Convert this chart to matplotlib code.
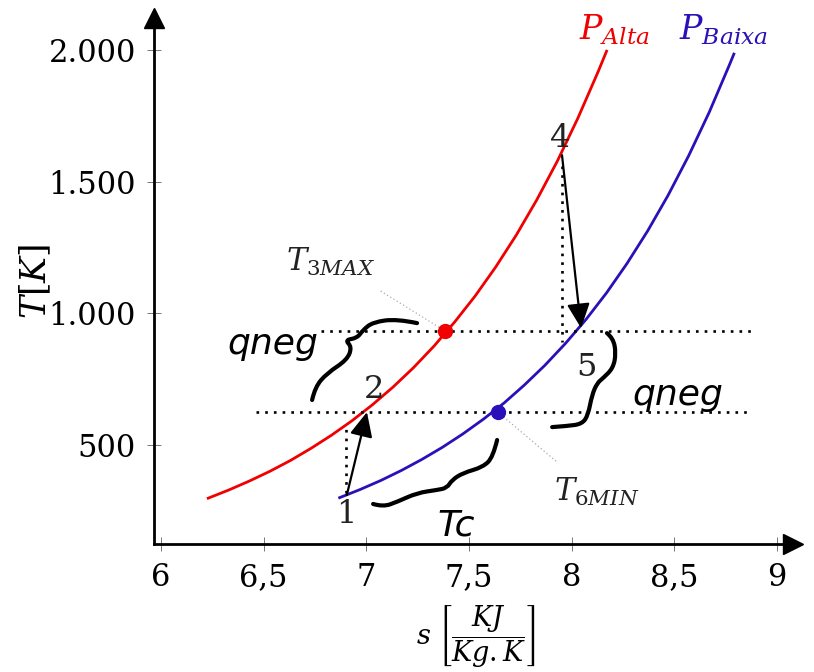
import matplotlib.pyplot as plt
import numpy as np
from matplotlib.path import Path
from matplotlib.patches import PathPatch

plt.rcParams['font.family'] = 'DejaVu Serif'
plt.rcParams['mathtext.fontset'] = 'dejavuserif'

RED = '#f00000'
BLUE = '#2a10b8'

# isobaric curves (s in kJ/kg.K, T in K)
s_alta = [6.23, 6.33, 6.43, 6.53, 6.63, 6.73, 6.83, 6.93, 7.03, 7.13, 7.23,
          7.33, 7.43, 7.53, 7.63, 7.73, 7.83, 7.93, 8.03, 8.13, 8.17]
T_alta = [298, 329, 363, 400, 441, 487, 537, 592, 653, 720, 794,
          876, 967, 1066, 1176, 1297, 1431, 1578, 1741, 1920, 1996]
s_baixa = [6.87, 6.97, 7.07, 7.17, 7.27, 7.37, 7.47, 7.57, 7.67, 7.77, 7.87,
           7.97, 8.07, 8.17, 8.27, 8.37, 8.47, 8.57, 8.67, 8.77, 8.79]
T_baixa = [300, 331, 365, 403, 445, 491, 542, 598, 659, 728, 803,
           886, 977, 1078, 1190, 1313, 1449, 1599, 1764, 1947, 1985]

# cycle states
s_pts = {'1': 6.905, '2': 7.003, '4': 7.953, '5': 8.046}
T_pts = {'1': 310, '2': 625, '4': 1601, '5': 944}
s_3max, T_3max = 7.383, 933
s_6min, T_6min = 7.64, 625

# handwritten strokes (data coords)
brace_left = [(7.247, 963), (7.150, 979), (7.033, 967), (6.984, 937), (6.955, 906),
              (6.896, 899), (6.930, 872), (6.906, 823), (6.809, 773), (6.750, 720),
              (6.736, 671)]
brace_right = [(8.172, 925), (8.202, 906), (8.216, 849), (8.202, 792), (8.153, 754),
               (8.124, 735), (8.099, 690), (8.080, 614), (8.051, 580), (7.978, 572),
               (7.905, 568)]
brace_bottom = [(7.637, 519), (7.617, 454), (7.568, 416), (7.471, 394), (7.417, 367),
                (7.393, 337), (7.344, 329), (7.247, 318), (7.150, 284), (7.081, 265),
                (7.033, 276)]


def smooth_stroke(ax, pts, lw=3.0):
    verts = [pts[0]]
    codes = [Path.MOVETO]
    n = len(pts)
    for i in range(1, n - 1):
        end = pts[n - 1] if i == n - 2 else ((pts[i][0] + pts[i + 1][0]) / 2,
                                             (pts[i][1] + pts[i + 1][1]) / 2)
        verts += [pts[i], end]
        codes += [Path.CURVE3, Path.CURVE3]
    ax.add_patch(PathPatch(Path(verts, codes), fill=False, lw=lw, color='black',
                           capstyle='round', joinstyle='round', zorder=6))


fig = plt.figure(figsize=(8.14, 6.72), dpi=100)
ax = fig.add_axes([0.1892, 0.1905, 0.785, 0.7827])
ax.set_xlim(5.966, 9.078)
ax.set_ylim(124, 2122)

for side in ['top', 'right']:
    ax.spines[side].set_visible(False)
for side in ['left', 'bottom']:
    ax.spines[side].set_linewidth(2.0)
ax.plot(1, 0, '>k', ms=15, transform=ax.transAxes, clip_on=False)
ax.plot(0, 1, '^k', ms=15, transform=ax.transAxes, clip_on=False)

ax.set_xticks([6, 6.5, 7, 7.5, 8, 8.5, 9])
ax.set_xticklabels(['6', '6,5', '7', '7,5', '8', '8,5', '9'])
ax.set_yticks([500, 1000, 1500, 2000])
ax.set_yticklabels(['500', '1.000', '1.500', '2.000'])
ax.tick_params(direction='inout', length=10, width=0.7, color='#777777',
               labelsize=22, pad=8)

ax.set_xlabel(r'$s\ \left[\dfrac{KJ}{Kg.K}\right]$', fontsize=19.5, va='center')
ax.xaxis.set_label_coords(0.504, -0.176)
ax.set_ylabel(r'$T[K]$', fontsize=25, va='center')
ax.yaxis.set_label_coords(-0.186, 0.50)

# curves
ax.plot(s_alta, T_alta, color=RED, lw=2.0)
ax.plot(s_baixa, T_baixa, color=BLUE, lw=2.0)
ax.text(s_alta[-1] + 0.04, 2076, r'$P_{Alta}$', color=RED, fontsize=24,
        ha='center', va='center')
ax.text(s_baixa[-1] - 0.05, 2076, r'$P_{Baixa}$', color=BLUE, fontsize=24,
        ha='center', va='center')

# dotted guide lines
dot = dict(color='black', lw=1.9, ls=(0, (1, 2.3)))
ax.plot([6.78, 8.879], [T_3max, T_3max], **dot)
ax.plot([6.463, 8.879], [T_6min, T_6min], **dot)
ax.plot([6.90, 6.90], [318, 565], **dot)
ax.plot([7.953, 7.953], [1560, 890], **dot)

# leaders to the labels
ax.plot([7.07, s_3max], [1085, T_3max], color='#aaaaaa', lw=0.9, ls=(0, (1, 2)))
ax.plot([s_6min, 7.934], [T_6min, 432], color='#aaaaaa', lw=0.9, ls=(0, (1, 2)))
ax.text(6.828, 1195, r'$T_{3MAX}$', fontsize=22, color='#222222', ha='center', va='center')
ax.text(8.124, 322, r'$T_{6MIN}$', fontsize=22, color='#222222', ha='center', va='center')

# state points
ax.plot(s_3max, T_3max, 'o', color=RED, ms=10, zorder=5)
ax.plot(s_6min, T_6min, 'o', color=BLUE, ms=10, zorder=5)

arrow = dict(arrowstyle='-|>,head_length=1.5,head_width=0.7', color='black', lw=1.6,
             shrinkA=0, shrinkB=0)
ax.annotate('', xy=(s_pts['2'], T_pts['2']), xytext=(s_pts['1'], T_pts['1']),
            arrowprops=arrow)
ax.annotate('', xy=(s_pts['5'], T_pts['5']), xytext=(s_pts['4'], T_pts['4']),
            arrowprops=arrow)

num = dict(fontsize=23, color='#222222', ha='center', va='center')
ax.text(6.903, 235, '1', **num)
ax.text(7.036, 712, '2', **num)
ax.text(7.943, 1665, '4', **num)
ax.text(8.070, 796, '5', **num)

# handwriting
smooth_stroke(ax, brace_left)
smooth_stroke(ax, brace_right)
smooth_stroke(ax, brace_bottom)
hand = dict(fontsize=26, family='DejaVu Sans', style='italic', color='black',
            ha='center', va='center')
ax.text(6.545, 885, 'qneg', **hand)
ax.text(8.515, 690, 'qneg', **hand)
ax.text(7.44, 195, 'Tc', **hand)

fig.savefig('out.png', dpi=100)
